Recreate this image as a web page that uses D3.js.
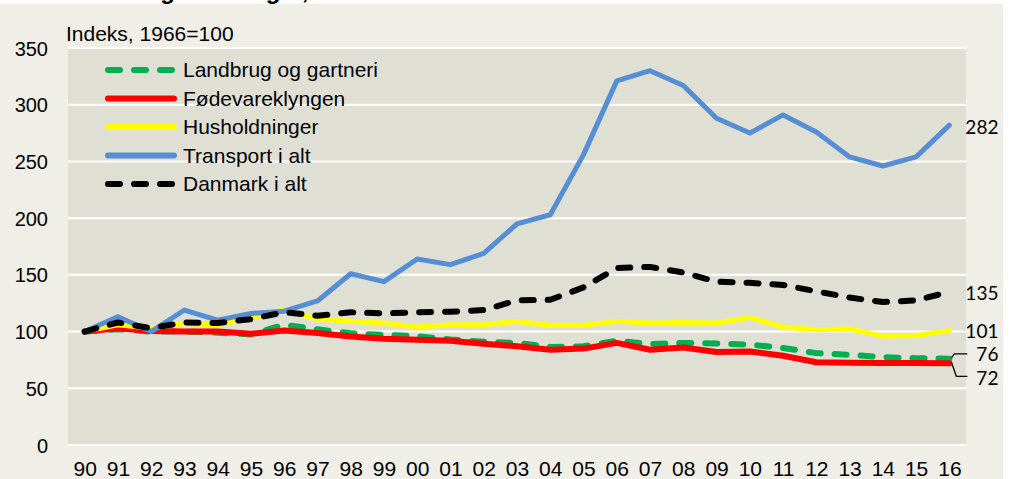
<!DOCTYPE html>
<html lang="da">
<head>
<meta charset="utf-8">
<title>Indeks, 1966=100</title>
<script src="https://d3js.org/d3.v7.min.js"></script>
<style>
  body { margin: 0; background: #fff; }
  svg text { font-family: "Liberation Sans", Arial, sans-serif; fill: #000; }
  .endlbl { font-family: Lato, "Open Sans", sans-serif !important; }
</style>
</head>
<body>
<svg width="1012" height="479"></svg>
<script>
var years = ["90","91","92","93","94","95","96","97","98","99","00","01","02","03","04","05","06","07","08","09","10","11","12","13","14","15","16"];
var yTicks = [0, 50, 100, 150, 200, 250, 300, 350];

var landbrug  = [100,102,100,100,99,97.5,106,102,98.5,97,96,93,91,90,86.5,87,92,89,90,89.5,88.5,85.5,81,79.5,77.5,76.5,76];
var foedevare = [100,103,100.5,100,100,98,101,98.7,95.7,93.7,92.8,92,89.3,87,84,85,90,84,86,82,82.5,78.7,73,72.5,72.3,72.2,72];
var hushold   = [100,106,103,107,106,112,119,111,109,107.5,104,106,106,109,105.5,105.5,109,107.5,108,107.5,112.5,104,101.6,102.5,96,96.5,101];
var transport = [100,113,100,119,110,116,118,127,151,144,164,159,169,195,203,256,321,330,317,288,275,291,276,254,246,254,282];
var danmark   = [100,108,103,108,107.5,111,117,114,117,116,117,117.5,119,127.5,128,139,156,157,152,144,143,141,135.5,130,126,127.5,135];

var series = [
  {name: "Landbrug og gartneri", values: landbrug,  color: "#00b050", width: 6,   dash: "12,14"},
  {name: "Fødevareklyngen",      values: foedevare, color: "#ff0000", width: 6,   dash: null},
  {name: "Husholdninger",        values: hushold,   color: "#ffff00", width: 5,   dash: null},
  {name: "Transport i alt",      values: transport, color: "#558ed5", width: 5,   dash: null},
  {name: "Danmark i alt",        values: danmark,   color: "#000000", width: 6,   dash: "12,14"}
];

var svg = d3.select("svg");
var plot = {left: 68, right: 966, top: 48, bottom: 445};

// baggrund
svg.append("rect").attr("x", 0).attr("y", 4).attr("width", 1003).attr("height", 475).attr("fill", "#efeee7");

// afklippet overskrift
svg.append("text")
  .attr("x", 67).attr("y", -1)
  .style("font-weight", "bold").style("font-size", "24px")
  .text("Udvikling i forbruget, 1990-2016");

svg.append("rect")
  .attr("x", plot.left).attr("y", plot.top)
  .attr("width", plot.right - plot.left).attr("height", plot.bottom - plot.top)
  .attr("fill", "#e0dfd4");

var x = d3.scalePoint().domain(years).range([plot.left, plot.right]).padding(0.5);
var y = d3.scaleLinear().domain([0, 350]).range([plot.bottom, plot.top]);

// gitterlinjer
svg.append("g").selectAll("line")
  .data(yTicks)
  .enter().append("line")
    .attr("x1", plot.left).attr("x2", plot.right)
    .attr("y1", function(d) { return y(d); })
    .attr("y2", function(d) { return y(d); })
    .attr("stroke", "#fff").attr("stroke-width", 2);

var yAxis = svg.append("g")
  .attr("transform", "translate(" + (plot.left - 20) + ",0)")
  .call(d3.axisLeft(y).tickValues(yTicks).tickSize(0).tickPadding(0));
yAxis.select(".domain").remove();
yAxis.selectAll("text").style("font-size", "20px").attr("dy", "0.35em");

var xAxis = svg.append("g")
  .attr("transform", "translate(0," + (plot.bottom + 15) + ")")
  .call(d3.axisBottom(x).tickSize(0).tickPadding(0));
xAxis.select(".domain").remove();
xAxis.selectAll("text").style("font-size", "21px").attr("dy", "0.76em");

svg.append("text")
  .attr("x", 66).attr("y", 41)
  .style("font-size", "21px")
  .text("Indeks, 1966=100");

var line = d3.line()
  .x(function(d, i) { return x(years[i]); })
  .y(function(d) { return y(d); });

svg.append("g").selectAll("path")
  .data(series)
  .enter().append("path")
    .attr("d", function(d) { return line(d.values); })
    .attr("fill", "none")
    .attr("stroke", function(d) { return d.color; })
    .attr("stroke-width", function(d) { return d.width; })
    .attr("stroke-dasharray", function(d) { return d.dash; })
    .attr("stroke-linecap", "round")
    .attr("stroke-linejoin", "round");

// legende
var legend = svg.append("g");
var row = legend.selectAll("g")
  .data(series)
  .enter().append("g")
    .attr("transform", function(d, i) { return "translate(0," + (70 + i * 28.5) + ")"; });
row.append("line")
  .attr("x1", 108).attr("x2", 174)
  .attr("stroke", function(d) { return d.color; })
  .attr("stroke-width", 6)
  .attr("stroke-dasharray", function(d) { return d.dash; })
  .attr("stroke-linecap", "round");
row.append("text")
  .attr("x", 183).attr("dy", "0.35em")
  .style("font-size", "21px")
  .text(function(d) { return d.name; });

// slutværdier
var last = years[years.length - 1];
var xEnd = x(last);
var endLabels = [
  {s: series[3], dx: 16, dy: 2},
  {s: series[4], dx: 16, dy: 1},
  {s: series[2], dx: 16, dy: 1},
  {s: series[0], dx: 27, dy: -4},
  {s: series[1], dx: 27, dy: 15}
];
svg.append("g").selectAll("text")
  .data(endLabels)
  .enter().append("text")
    .attr("class", "endlbl")
    .attr("x", function(d) { return xEnd + d.dx; })
    .attr("y", function(d) { return y(d.s.values[d.s.values.length - 1]) + d.dy; })
    .attr("dy", "0.35em")
    .style("font-size", "19px")
    .text(function(d) { return Math.round(d.s.values[d.s.values.length - 1]); });

// klammer for 76 og 72
var yL = y(landbrug[landbrug.length - 1]), yF = y(foedevare[foedevare.length - 1]);
svg.append("path")
  .attr("d", "M" + (xEnd + 2) + "," + (yL - 1) + "L" + (xEnd + 5) + "," + (yL - 5) + "L" + (xEnd + 18) + "," + (yL - 5) +
             "M" + (xEnd + 2) + "," + (yF - 1) + "L" + (xEnd + 7) + "," + (yF + 13) + "L" + (xEnd + 18) + "," + (yF + 13))
  .attr("fill", "none").attr("stroke", "#000").attr("stroke-width", 1.3);
</script>
</body>
</html>
